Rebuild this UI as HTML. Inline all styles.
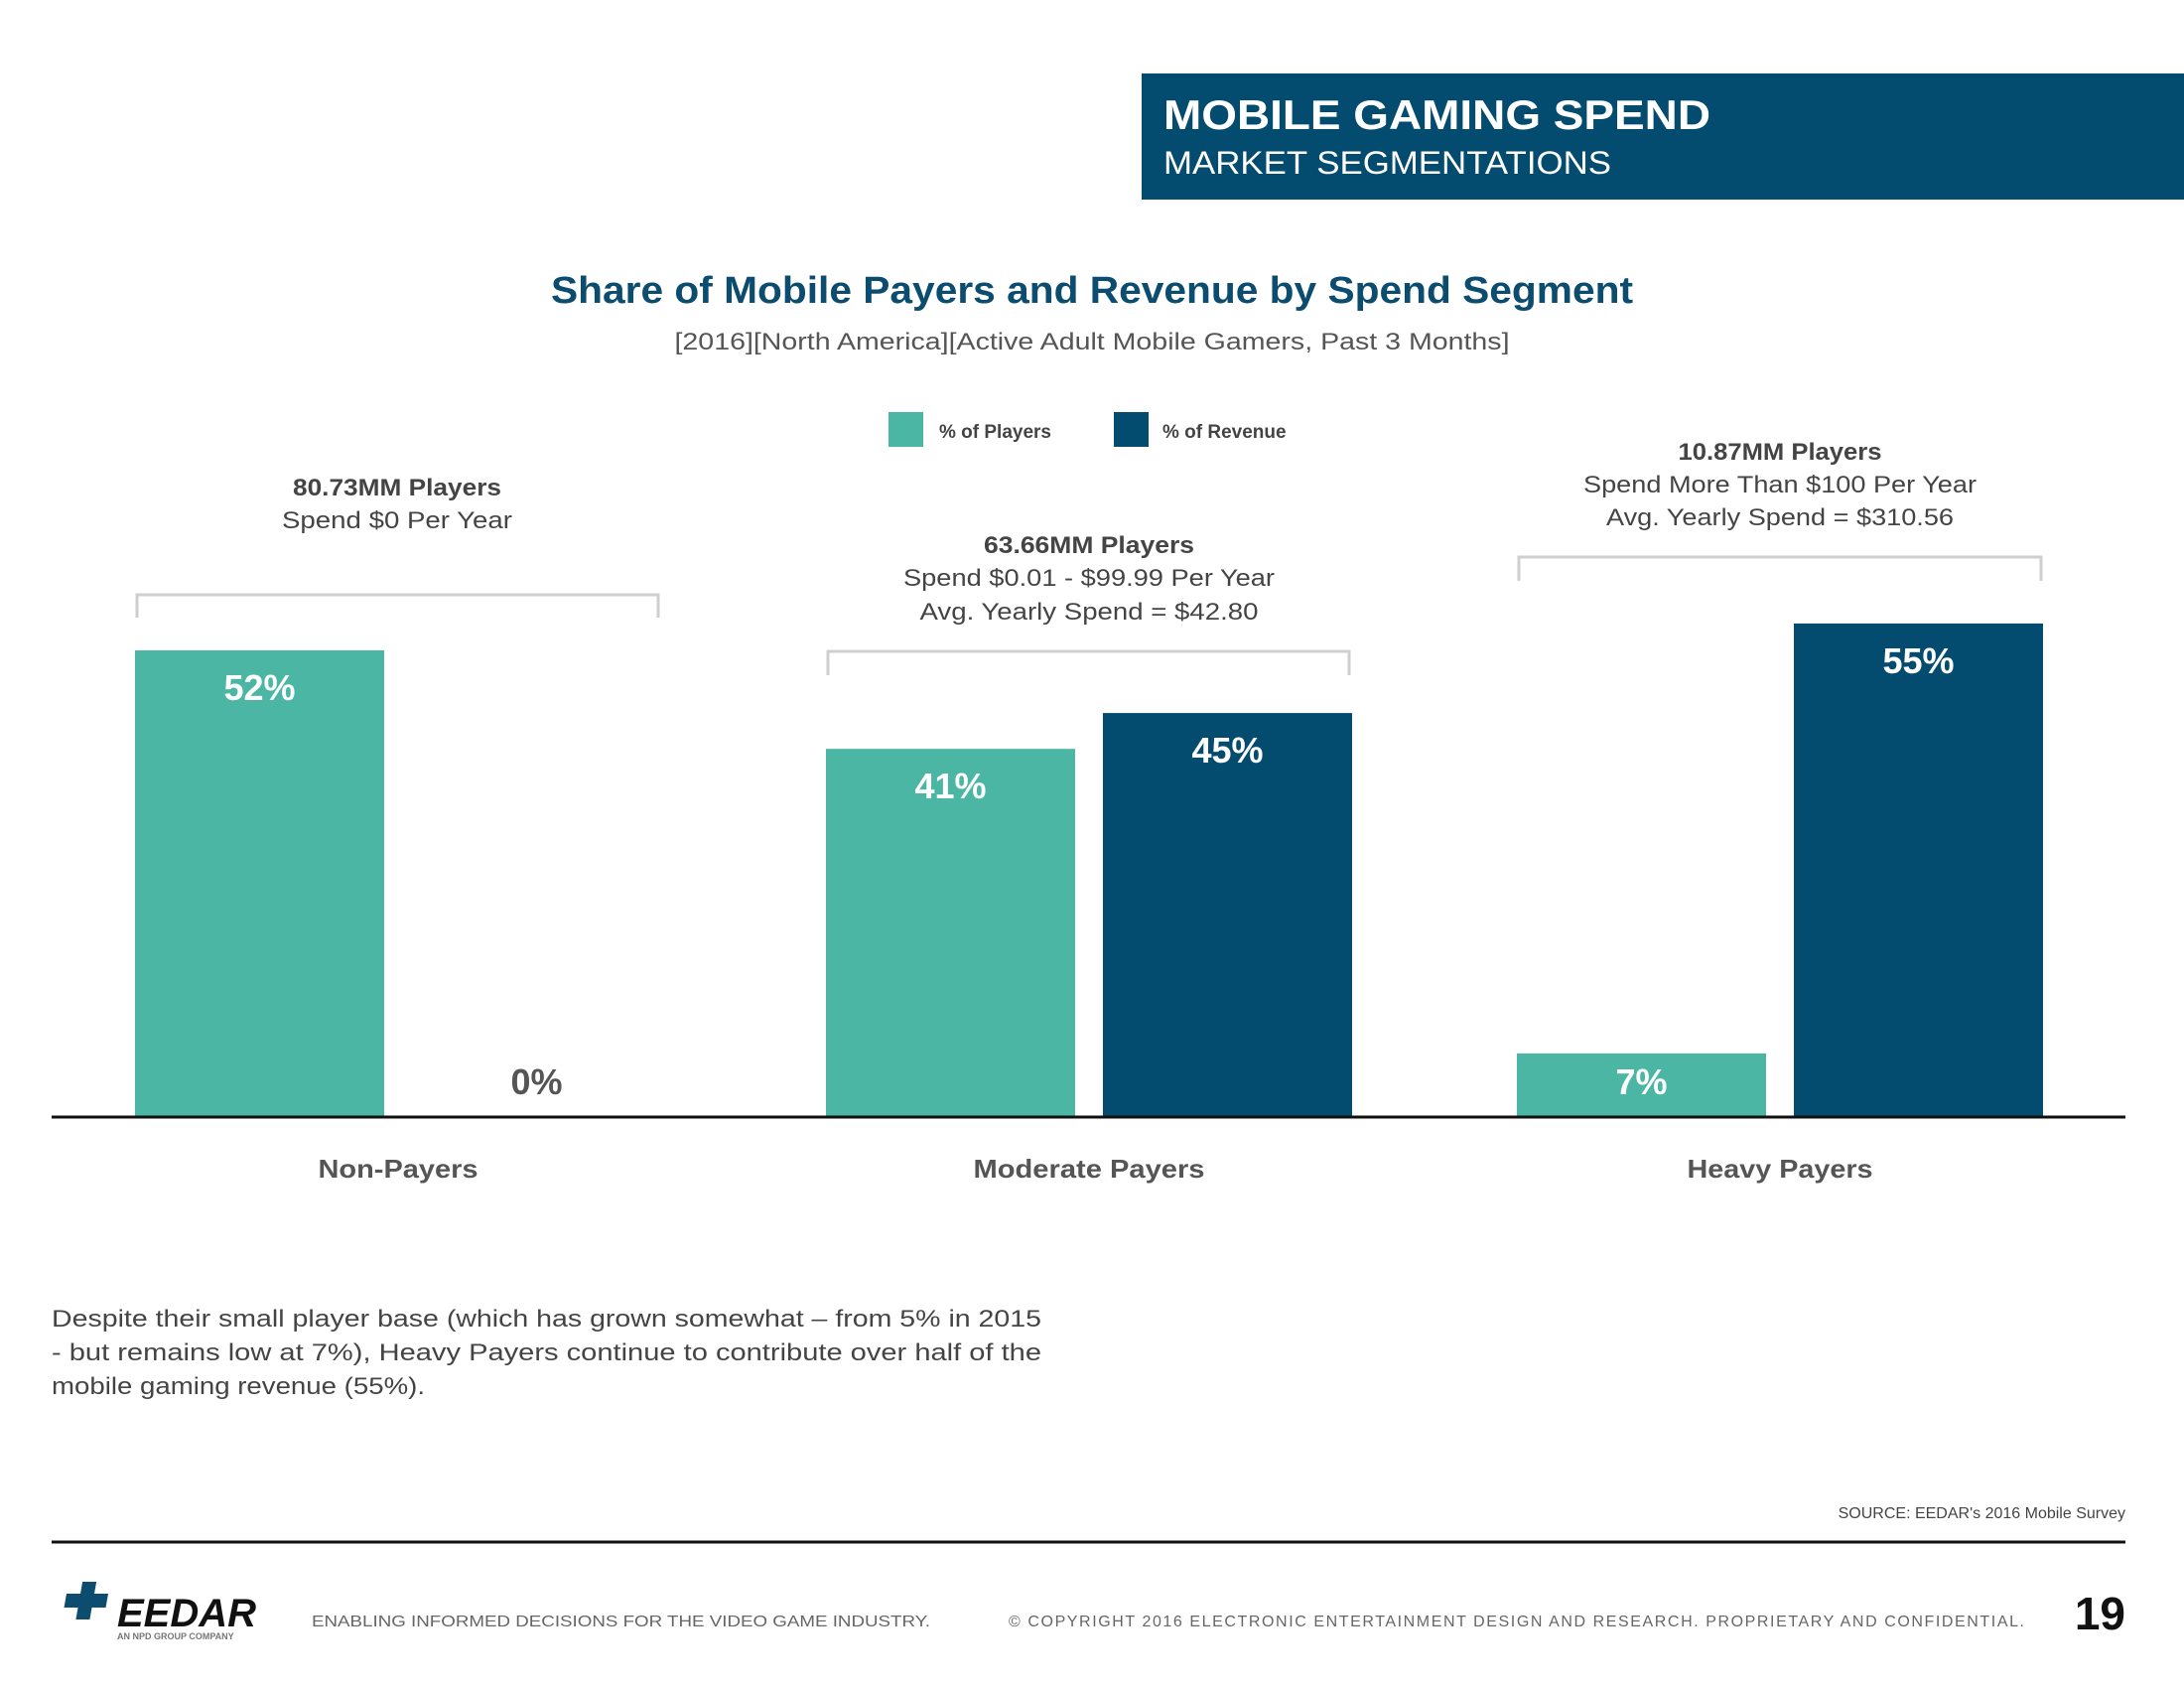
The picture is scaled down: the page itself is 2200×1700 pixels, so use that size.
<!DOCTYPE html>
<html><head><meta charset="utf-8"><style>
html,body{margin:0;padding:0;background:#fff;width:2200px;height:1700px;overflow:hidden}
svg{display:block;font-family:"Liberation Sans",sans-serif}
</style></head><body>
<svg id="chart" width="2200" height="1700" viewBox="0 0 2200 1700">
<rect x="1150" y="74" width="1050" height="127" fill="#044b70"/>
<text x="1172" y="130" font-size="42" font-weight="bold" fill="#fff" textLength="551" lengthAdjust="spacingAndGlyphs">MOBILE GAMING SPEND</text>
<text x="1172" y="175" font-size="32" fill="#fff" textLength="451" lengthAdjust="spacingAndGlyphs">MARKET SEGMENTATIONS</text>
<text x="1100" y="305" font-size="38" font-weight="bold" fill="#0b4c6f" text-anchor="middle" textLength="1090" lengthAdjust="spacingAndGlyphs">Share of Mobile Payers and Revenue by Spend Segment</text>
<text x="1100" y="352" font-size="24" fill="#555" text-anchor="middle" textLength="841" lengthAdjust="spacingAndGlyphs">[2016][North America][Active Adult Mobile Gamers, Past 3 Months]</text>
<g>
<rect x="895" y="415" width="35" height="35" fill="#4bb6a4"/>
<text x="946" y="441" font-size="19" font-weight="bold" fill="#444">% of Players</text>
<rect x="1122" y="415" width="35" height="35" fill="#044b70"/>
<text x="1171" y="441" font-size="19" font-weight="bold" fill="#444">% of Revenue</text>
</g>
<g id="bars"></g>
<line x1="52" y1="1125" x2="2141" y2="1125" stroke="#111" stroke-width="3"/>
<g font-size="24" fill="#444" text-anchor="middle">
<text x="400" y="499" font-weight="bold" textLength="210" lengthAdjust="spacingAndGlyphs">80.73MM Players</text>
<text x="400" y="532" textLength="232" lengthAdjust="spacingAndGlyphs">Spend $0 Per Year</text>
<text x="1097" y="557" font-weight="bold" textLength="212" lengthAdjust="spacingAndGlyphs">63.66MM Players</text>
<text x="1097" y="590" textLength="374" lengthAdjust="spacingAndGlyphs">Spend $0.01 - $99.99 Per Year</text>
<text x="1097" y="624" textLength="341" lengthAdjust="spacingAndGlyphs">Avg. Yearly Spend = $42.80</text>
<text x="1793" y="463" font-weight="bold" textLength="205" lengthAdjust="spacingAndGlyphs">10.87MM Players</text>
<text x="1793" y="496" textLength="396" lengthAdjust="spacingAndGlyphs">Spend More Than $100 Per Year</text>
<text x="1793" y="529" textLength="350" lengthAdjust="spacingAndGlyphs">Avg. Yearly Spend = $310.56</text>
</g>
<g fill="none" stroke="#cfcfcf" stroke-width="3">
<polyline points="138,622 138,599 663,599 663,622"/>
<polyline points="834,680 834,656 1359,656 1359,680"/>
<polyline points="1530,585 1530,561 2056,561 2056,585"/>
</g>
<text x="52" y="1336" font-size="24" fill="#444" textLength="997" lengthAdjust="spacingAndGlyphs">Despite their small player base (which has grown somewhat – from 5% in 2015</text>
<text x="52" y="1370" font-size="24" fill="#444" textLength="997" lengthAdjust="spacingAndGlyphs">- but remains low at 7%), Heavy Payers continue to contribute over half of the</text>
<text x="52" y="1404" font-size="24" fill="#444" textLength="376" lengthAdjust="spacingAndGlyphs">mobile gaming revenue (55%).</text>
<text x="2141" y="1529" font-size="16" fill="#444" text-anchor="end">SOURCE: EEDAR's 2016 Mobile Survey</text>
<line x1="52" y1="1553" x2="2141" y2="1553" stroke="#111" stroke-width="3"/>
<g>
<path d="M70 1605 h14 v-12 h14 v12 h14 v14 h-14 v12 h-14 v-12 h-14z" fill="#0b4c6f" transform="skewX(-10) translate(280,0)"/>
<text x="118" y="1638" font-size="40" font-weight="bold" font-style="italic" fill="#111">EEDAR</text>
<text x="118" y="1651" font-size="9" font-weight="bold" fill="#777">AN NPD GROUP COMPANY</text>
</g>
<text x="314" y="1638" font-size="16" fill="#666" textLength="623" lengthAdjust="spacingAndGlyphs">ENABLING INFORMED DECISIONS FOR THE  VIDEO GAME INDUSTRY.</text>
<text x="1016" y="1638" font-size="16" fill="#666" textLength="1023" lengthAdjust="spacing">© COPYRIGHT 2016 ELECTRONIC ENTERTAINMENT DESIGN AND RESEARCH. PROPRIETARY AND CONFIDENTIAL.</text>
<text x="2141" y="1641" font-size="46" font-weight="bold" fill="#111" text-anchor="end">19</text>
</svg>
<script>
const categories = ["Non-Payers", "Moderate Payers", "Heavy Payers"];
const playersPct = [52, 41, 7];
const revenuePct = [0, 45, 55];
const NS = "http://www.w3.org/2000/svg";
const baseY = 1124, pxPer = 9.02, x0 = 136, groupStep = 696, barW = 251, barGap = 28;
function yScale(v){ return baseY - v * pxPer; }
function xScale(i, s){ return x0 + i * groupStep + s * (barW + barGap); }
const g = document.getElementById("bars");
function mk(tag, attrs){ const e = document.createElementNS(NS, tag); for (const k in attrs) e.setAttribute(k, attrs[k]); return e; }
[playersPct, revenuePct].forEach((series, s) => {
  series.forEach((v, i) => {
    const x = xScale(i, s), y = yScale(v);
    const r = mk("rect", {x: x, y: y, width: barW, height: baseY - y, fill: s === 0 ? "#4bb6a4" : "#044b70"});
    
    
    g.appendChild(r);
    const ty = Math.min(y + 50, baseY - 22);
    const t = mk("text", {x: x + barW / 2, y: ty, "font-size": 36, "font-weight": "bold", "text-anchor": "middle", fill: (baseY - y) > 40 ? "#fff" : "#555"});
    t.textContent = v + "%";
    
    
    g.appendChild(t);
  });
});
const catWidths = [161, 233, 187];
categories.forEach((c, i) => {
  const t = mk("text", {x: x0 + i * groupStep + 265, y: 1186, "font-size": 26, "font-weight": "bold", "text-anchor": "middle", fill: "#555", textLength: catWidths[i], lengthAdjust: "spacingAndGlyphs"});
  t.textContent = c;
  
  
  g.appendChild(t);
});
</script>
</body></html>
